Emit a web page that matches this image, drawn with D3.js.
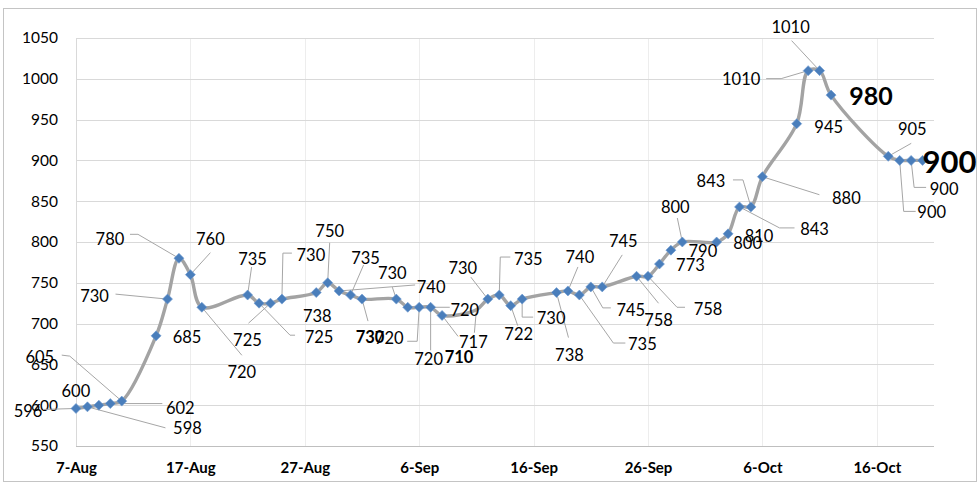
<!DOCTYPE html>
<html>
<head>
<meta charset="utf-8">
<script src="https://cdn.jsdelivr.net/npm/d3@7"></script>
<style>
  html, body { margin: 0; padding: 0; background: #ffffff; }
  svg { display: block; }
  text { font-family: Lato, "Open Sans", sans-serif; }
</style>
</head>
<body>
<script>
// ---------------- DATA ----------------
const dates = [
  "2017-08-07","2017-08-08","2017-08-09","2017-08-10","2017-08-11",
  "2017-08-14","2017-08-15","2017-08-16","2017-08-17","2017-08-18",
  "2017-08-22","2017-08-23","2017-08-24","2017-08-25",
  "2017-08-28","2017-08-29","2017-08-30","2017-08-31","2017-09-01",
  "2017-09-04","2017-09-05","2017-09-06","2017-09-07","2017-09-08",
  "2017-09-11","2017-09-12","2017-09-13","2017-09-14","2017-09-15",
  "2017-09-18","2017-09-19","2017-09-20","2017-09-21","2017-09-22",
  "2017-09-25","2017-09-26","2017-09-27","2017-09-28","2017-09-29",
  "2017-10-02","2017-10-03","2017-10-04","2017-10-05","2017-10-06",
  "2017-10-09","2017-10-10","2017-10-11","2017-10-12",
  "2017-10-17","2017-10-18","2017-10-19","2017-10-20"
];
const values = [
  596, 598, 600, 602, 605,
  685, 730, 780, 760, 720,
  735, 725, 725, 730,
  738, 750, 740, 735, 730,
  730, 720, 720, 720, 710,
  717, 730, 735, 722, 730,
  738, 740, 735, 745, 745,
  758, 758, 773, 790, 800,
  800, 810, 843, 843, 880,
  945, 1010, 1010, 980,
  905, 900, 900, 900
];
const yTicks = [550, 600, 650, 700, 750, 800, 850, 900, 950, 1000, 1050];
const xTickDates = ["2017-08-07","2017-08-17","2017-08-27","2017-09-06","2017-09-16","2017-09-26","2017-10-06","2017-10-16"];
const xTickLabels = ["7-Aug","17-Aug","27-Aug","6-Sep","16-Sep","26-Sep","6-Oct","16-Oct"];

// ---------------- LAYOUT (label placement relative to each point) ----------------
const labelOffsets = [
  [-48, 9], [100, 27], [-23, -8], [70, 10], [-82, -38],
  [31, 7], [-73, 3], [-69, -13], [20, -30], [40, 71],
  [5, -30], [60, 40], [-23, 43], [29, -38],
  [1, 29], [2, -46], [92, 2], [15, -31], [8, 44],
  [-4, -20], [57, 9], [-30, 37], [-2, 58], [17, 48],
  [-3, 38], [-25, -25], [29, -30], [8, 34], [29, 25],
  [13, 68], [12, -28], [63, 55], [40, 29], [21, -40],
  [22, 50], [60, 39], [31, 7], [32, 7], [-7, -29],
  [31, 7], [31, 8], [75, 28], [-40, -20], [84, 27],
  [32, 9], [-67, 14], [-29, -38], [40, 10],
  [24, -21], [32, 58], [33, 35], [27, 13]
];
const leaders = [
  [[-33, 1]], [[78, 21]], [], [[52, 0]], [[-60, -46], [-52, -45]],
  [], [[-52, -5]], [[-49, -24], [-41, -24]], [[20, -22]], [[40, 48]],
  [[4, -28]], [[36, 32], [31, 32]], [[-22, 20]], [[10, -46], [1, -46]],
  [], [[2, -40]], [[76, -6]], [[13, -30]], [[6, 22]],
  [[-4, -12]], [[42, 0]], [[-12, 34], [-2, 34]], [[0, 43]], [[16, 21]],
  [[-2, 23]], [[-17, -22]], [[11, -38], [1, -38]], [[7, 20]], [[11, 18], [0, 18]],
  [[12, 45]], [[10, -24]], [[46, 48], [34, 48]], [[20, 21], [12, 21]], [[20, -32]],
  [[22, 27]], [[37, 31], [29, 31]], [], [], [[-5, -24]],
  [], [], [[55, 21], [40, 21]], [[-18, -27], [-8, -27]], [[57, 18]],
  [], [[-42, 8], [-27, 8]], [[-28, -30]], [],
  [[23, -13]], [[16, 51], [4, 51]], [[15, 27], [3, 27]], []
];
// label styles: index -> [font-size, weight]
const labelStyle = { 18: [16.5, 700], 23: [16.5, 700], 47: [25, 700], 51: [31, 700] };
// points drawn without a marker in the reference
const hiddenMarkers = new Set([24]);

// ---------------- CHART ----------------
const W = 980, H = 484;
const parse = d3.timeParse("%Y-%m-%d");
const data = dates.map((d, i) => ({ date: parse(d), value: values[i], i }));

const x = d3.scaleTime()
  .domain([parse("2017-08-07"), parse("2017-10-21")])
  .range([76, 934]);
const y = d3.scaleLinear().domain([550, 1050]).range([446, 38]);

const svg = d3.select("body").append("svg").attr("width", W).attr("height", H);

svg.append("rect").attr("x", 0).attr("y", 0).attr("width", W).attr("height", H).attr("fill", "#fff");
svg.append("rect").attr("x", 3.5).attr("y", 8.5).attr("width", 973).attr("height", 473)
  .attr("fill", "none").attr("stroke", "#c4c4c4").attr("stroke-width", 1);

// vertical gridlines
svg.append("g").selectAll("line").data(xTickDates.map(parse)).join("line")
  .attr("x1", d => Math.round(x(d)) + 0.5).attr("x2", d => Math.round(x(d)) + 0.5)
  .attr("y1", y(1050)).attr("y2", y(550))
  .attr("stroke", (d, i) => i === 0 ? "#d9d9d9" : "#ededed").attr("stroke-width", 1);

// horizontal gridlines
svg.append("g").selectAll("line").data(yTicks).join("line")
  .attr("x1", x.range()[0]).attr("x2", x.range()[1])
  .attr("y1", d => Math.round(y(d)) + 0.5).attr("y2", d => Math.round(y(d)) + 0.5)
  .attr("stroke", d => d === 550 ? "#bfbfbf" : "#d9d9d9").attr("stroke-width", 1);

// y axis labels
const yAxis = svg.append("g").attr("transform", `translate(${x.range()[0]},0)`)
  .call(d3.axisLeft(y).tickValues(yTicks).tickSize(0).tickPadding(18).tickFormat(d3.format("d")));
yAxis.select(".domain").remove();
yAxis.selectAll("text").attr("font-family", "Lato, sans-serif").attr("font-size", 15.5).attr("fill", "#000");

// x axis labels
const xAxis = svg.append("g").attr("transform", `translate(0,${y(550)})`)
  .call(d3.axisBottom(x).tickValues(xTickDates.map(parse)).tickSize(0).tickPadding(16)
    .tickFormat((d, i) => xTickLabels[i]));
xAxis.select(".domain").remove();
xAxis.selectAll("text").attr("font-family", "Lato, sans-serif").attr("font-size", 15)
  .attr("font-weight", 700).attr("fill", "#000");

const px = d => x(d.date), py = d => y(d.value);

// leader lines
svg.append("g").selectAll("path").data(data).join("path")
  .attr("d", (d, i) => {
    const pts = leaders[i];
    if (!pts.length) return null;
    const arr = pts.map(o => [px(d) + o[0], py(d) + o[1]]);
    arr.push([px(d), py(d)]);
    return d3.line()(arr);
  })
  .attr("fill", "none").attr("stroke", "#a6a6a6").attr("stroke-width", 1);

// series line
svg.append("path").datum(data)
  .attr("d", d3.line().x(px).y(py).curve(d3.curveCatmullRom.alpha(0.5)))
  .attr("fill", "none").attr("stroke", "#a3a3a3").attr("stroke-width", 3.4)
  .attr("stroke-linejoin", "round");

// markers
svg.append("g").selectAll("path").data(data.filter(d => !hiddenMarkers.has(d.i))).join("path")
  .attr("d", d3.symbol(d3.symbolSquare, 50))
  .attr("transform", d => `translate(${px(d)},${py(d)}) rotate(45)`)
  .attr("fill", "#4a7ebb").attr("stroke", "#6f9bd1").attr("stroke-width", 0.6);

// data labels
svg.append("g").selectAll("text").data(data).join("text")
  .attr("x", (d, i) => px(d) + labelOffsets[i][0])
  .attr("y", (d, i) => py(d) + labelOffsets[i][1])
  .attr("text-anchor", "middle")
  .attr("font-family", "Lato, sans-serif")
  .attr("font-size", (d, i) => labelStyle[i] ? labelStyle[i][0] : 16.5)
  .attr("font-weight", (d, i) => labelStyle[i] ? labelStyle[i][1] : 400)
  .attr("fill", "#000")
  .text(d => d.value);
</script>
</body>
</html>
